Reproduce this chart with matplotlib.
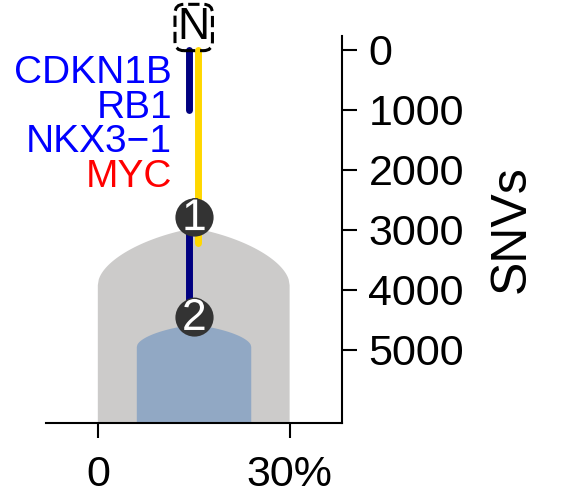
import numpy as np
import matplotlib
matplotlib.use("Agg")
import matplotlib.pyplot as plt
import matplotlib.patheffects as pe

plt.rcParams['font.family'] = ['Liberation Sans', 'DejaVu Sans']

# clones: center (% CCF), half width, peak and shoulder depth (SNVs)
clone_labels = ['1', '2']
clone_center = [15.0, 15.05]
clone_halfwidth = [15.0, 8.95]
clone_peak = [2970, 4580]
clone_shoulder = [3920, 4950]
clone_colors = ['#cccbca', '#91a8c4']

# nodes
node_x = [15.1, 15.1]
node_snvs = [2780, 4445]

# branches: x position, start, end, colour
branch_x = [14.2, 15.7, 14.2]
branch_start = [0, 0, 2780]
branch_end = [1000, 3220, 4445]
branch_colors = ['#000080', '#ffd700', '#000080']

# driver genes
genes = ['CDKN1B', 'RB1', 'NKX3\u22121', 'MYC']
gene_colors = ['blue', 'blue', 'blue', 'red']
gene_snvs = [380, 965, 1540, 2110]
gene_x = 11.6

ymax = 6217

fig = plt.figure(figsize=(5.62, 4.96), dpi=100)
ax = fig.add_axes([0.0819, 0.1472, 0.5267, 0.7802])

# clone shapes
for c, w, y0, y1, col in zip(clone_center, clone_halfwidth, clone_peak, clone_shoulder, clone_colors):
    t = np.linspace(0, 1, 100)
    f = 0.3 * t + 0.7 * (1 - np.sqrt(1 - t ** 2))
    yy = y0 + (y1 - y0) * f
    xr = c + w * t
    xl = c - w * t
    xs = np.concatenate([xl[::-1], xr, [c + w, c - w]])
    ys = np.concatenate([yy[::-1], yy, [ymax, ymax]])
    ax.fill(xs, ys, color=col, lw=0, zorder=1)

# branches
for x, s, e, col in zip(branch_x, branch_start, branch_end, branch_colors):
    ax.plot([x, x], [s, e], color=col, lw=5, solid_capstyle='round', zorder=2)

# nodes
ax.plot(node_x, node_snvs, 'o', ms=27.5, color='#333333', mec='none', zorder=3)
for x, y, lab in zip(node_x, node_snvs, clone_labels):
    ax.text(x, y + 30, lab, color='white', fontsize=32, ha='center', va='center', zorder=4,
            path_effects=[pe.withStroke(linewidth=2, foreground='#333333')])

# normal
ax.text(15.0, -375, 'N', fontsize=32, ha='center', va='center', clip_on=False, zorder=4,
        bbox=dict(boxstyle='round,pad=0.06,rounding_size=0.2', fc='none', ec='black', ls='--', lw=2.2))

# genes
for g, col, y in zip(genes, gene_colors, gene_snvs):
    ax.text(gene_x, y, g, color=col, fontsize=28, ha='right', va='center')

ax.set_xlim(-8.1, 38.2)
ax.set_ylim(ymax, -233)
ax.spines['left'].set_visible(False)
ax.spines['top'].set_visible(False)
ax.spines['right'].set_linewidth(1.5)
ax.spines['bottom'].set_linewidth(1.5)
ax.yaxis.tick_right()
ax.yaxis.set_label_position('right')
ax.set_yticks([0, 1000, 2000, 3000, 4000, 5000])
ax.set_xticks([0, 30])
ax.set_xticklabels(['0', '30%'])
ax.tick_params(labelsize=31, length=11, width=1.5)
ax.tick_params(axis='x', pad=12)
ax.tick_params(axis='y', pad=8)
ax.set_ylabel('SNVs', fontsize=36, labelpad=18)

fig.savefig('out.png', dpi=100)
